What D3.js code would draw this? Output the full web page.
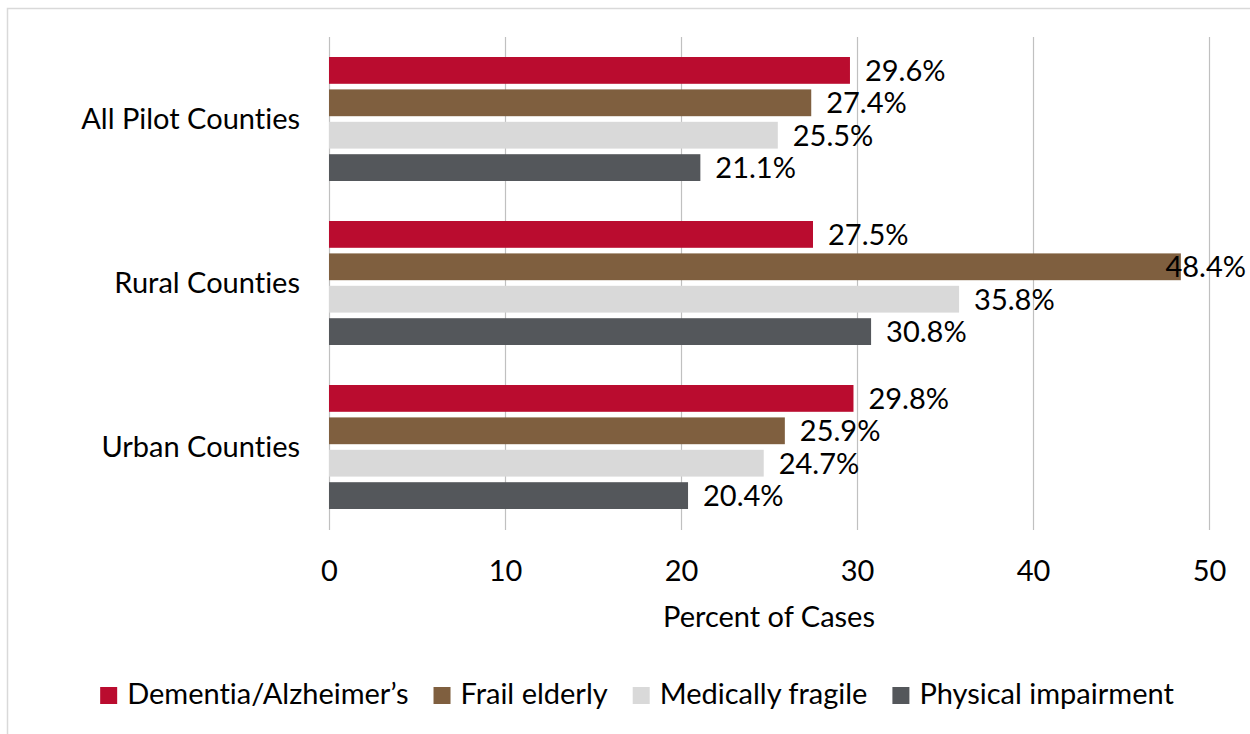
<!DOCTYPE html>
<html>
<head>
<meta charset="utf-8">
<script src="https://cdn.jsdelivr.net/npm/d3@7"></script>
<style>
  html, body { margin: 0; padding: 0; background: #fff; }
  svg text { font-family: Lato, "Open Sans", sans-serif; fill: #000; font-variant-ligatures: none; font-feature-settings: "liga" 0, "clig" 0; }
</style>
</head>
<body>
<svg id="chart" width="1250" height="734"></svg>
<script>
const categories = ["All Pilot Counties", "Rural Counties", "Urban Counties"];
const seriesNames = ["Dementia/Alzheimer\u2019s", "Frail elderly", "Medically fragile", "Physical impairment"];
const seriesColors = ["#BA0C2F", "#7F5F3F", "#D9D9D9", "#54575B"];
const dementia = [29.6, 27.5, 29.8];
const frail = [27.4, 48.4, 25.9];
const medically = [25.5, 35.8, 24.7];
const physical = [21.1, 30.8, 20.4];
const xTicks = [0, 10, 20, 30, 40, 50];
const xTitle = "Percent of Cases";

const seriesValues = [dementia, frail, medically, physical];
const rows = [];
categories.forEach((c, ci) => {
  seriesNames.forEach((s, si) => {
    rows.push({ cat: c, series: s, si, value: seriesValues[si][ci] });
  });
});

const svg = d3.select("#chart");
const FS = 29;

// chart border
svg.append("rect")
  .attr("x", 7.5).attr("y", 8.5)
  .attr("width", 1260).attr("height", 760)
  .attr("fill", "none").attr("stroke", "#D9D9D9").attr("stroke-width", 1.5);

const x = d3.scaleLinear().domain([0, 50]).range([329, 1209]);
const y0 = d3.scaleBand().domain(categories).range([37, 529]).padding(0);
const y1 = d3.scaleBand().domain(seriesNames).range([20, 144]).paddingInner(0.173).paddingOuter(0);

// gridlines
const grid = svg.append("g");
grid.selectAll("line").data(xTicks).join("line")
  .attr("x1", d => Math.round(x(d)) + 0.5).attr("x2", d => Math.round(x(d)) + 0.5)
  .attr("y1", 37).attr("y2", 530)
  .attr("stroke", "#C0C0C0").attr("stroke-width", 1.2);

// x axis tick labels via d3 axis
const xAxis = svg.append("g")
  .attr("transform", "translate(0,560)")
  .call(d3.axisBottom(x).tickValues(xTicks).tickSize(0).tickPadding(0).tickFormat(d3.format("d")));
xAxis.select(".domain").remove();
xAxis.selectAll("text")
  .attr("y", 21).attr("dy", null)
  .style("font-size", FS + "px").attr("fill", "#000");

svg.append("text")
  .attr("x", (x(0) + x(50)) / 2).attr("y", 627)
  .attr("text-anchor", "middle")
  .style("font-size", FS + "px")
  .text(xTitle);

// category labels
const yAxis = svg.append("g")
  .attr("transform", "translate(300,0)")
  .call(d3.axisLeft(y0).tickSize(0).tickPadding(0));
yAxis.select(".domain").remove();
yAxis.selectAll("text")
  .attr("x", 0).attr("dy", "0.35em")
  .style("font-size", FS + "px").attr("fill", "#000");

// bars
const groups = svg.append("g").selectAll("g").data(categories).join("g")
  .attr("transform", c => `translate(0,${y0(c)})`);

groups.selectAll("rect")
  .data(c => rows.filter(r => r.cat === c))
  .join("rect")
  .attr("x", x(0))
  .attr("y", d => y1(d.series))
  .attr("width", d => x(d.value) - x(0))
  .attr("height", y1.bandwidth())
  .attr("fill", d => seriesColors[d.si]);

// value labels
const maxRight = 1246;
groups.selectAll("text.val")
  .data(c => rows.filter(r => r.cat === c))
  .join("text")
  .attr("class", "val")
  .attr("y", d => y1(d.series) + y1.bandwidth() / 2)
  .attr("dy", "0.36em")
  .style("font-size", FS + "px")
  .text(d => d.value.toFixed(1) + "%")
  .attr("x", function(d) {
    const w = this.getComputedTextLength();
    const px = x(d.value) + 15;
    return px + w > maxRight ? maxRight - w : px;
  });

// legend
const legend = svg.append("g");
const items = legend.selectAll("g").data(seriesNames).join("g");
items.append("rect")
  .attr("width", 17).attr("height", 17)
  .attr("y", 687)
  .attr("fill", (d, i) => seriesColors[i]);
items.append("text")
  .attr("x", 27).attr("y", 704)
  .style("font-size", FS + "px")
  .text(d => d);
let widths = [];
items.each(function() { widths.push(27 + d3.select(this).select("text").node().getComputedTextLength()); });
const gap = 25;
const total = d3.sum(widths) + gap * (widths.length - 1);
let cx = 637 - total / 2;
items.attr("transform", (d, i) => {
  const t = `translate(${cx},0)`;
  cx += widths[i] + gap;
  return t;
});
</script>
</body>
</html>
